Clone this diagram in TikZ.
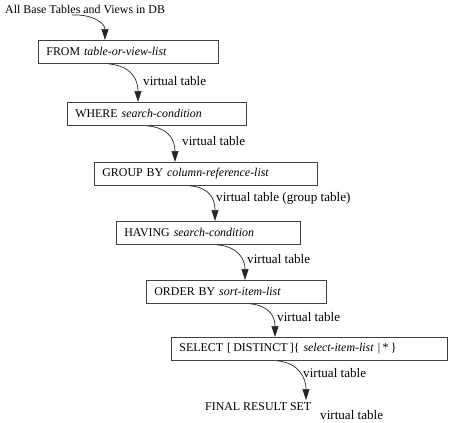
\documentclass[tikz,border=0pt]{standalone}
\usepackage{fontspec}
\setmainfont{Liberation Serif}
\usetikzlibrary{arrows.meta}
\begin{document}
\begin{tikzpicture}[x=1pt,y=-1pt,
  font=\fontsize{11.9}{14}\selectfont,
  box/.style={draw=black!75, line width=0.8pt, anchor=north west,
    minimum height=23pt, inner xsep=8pt, inner ysep=0pt, align=left, text width=#1},
  lbl/.style={anchor=west, inner sep=0pt},
  vt/.style={lbl, font=\fontsize{13.1}{15}\selectfont},
  arr/.style={draw=black!85, line width=0.7pt, -{Triangle[length=11pt,width=7pt]}}]
\useasboundingbox (0,0) rectangle (450,423);

\node[lbl] (title) at (5,9) {All Base Tables and Views in DB};
\coordinate (t0) at (72,15);

\node[box=164pt] (from) at (38,40) {FROM \textit{table-or-view-list}};
\node[box=163pt] (where) at (67,102) {WHERE \textit{search-condition}};
\node[box=207pt] (group) at (94,162) {GROUP BY \textit{column-reference-list}};
\node[box=168pt] (having) at (116,221) {HAVING \textit{search-condition}};
\node[box=164pt] (order) at (146,280) {ORDER BY \textit{sort-item-list}};
\node[box=260pt] (select) at (171,337)
  {SELECT [\hspace{0.2em}DISTINCT\hspace{0.2em}]\{ \textit{select-item-list} |\hspace{0.2em}*\hspace{0.2em}\}};
\node[lbl] (final) at (205,407) {FINAL RESULT SET};
\coordinate (fin) at (306,400);

\node[vt] (l1) at (143,81) {virtual table};
\node[vt] (l2) at (182,141) {virtual table};
\node[vt] (l3) at (216,198) {virtual table (group table)};
\node[vt] (l4) at (247,259) {virtual table};
\node[vt] (l5) at (277,317) {virtual table};
\node[vt] (l6) at (303,373) {virtual table};
\node[vt] (l7) at (320,415) {virtual table};

\draw[arr] (t0) .. controls +(22,-1) and +(0,-16) .. ([xshift=67pt]from.north west);
\draw[arr] ([xshift=70pt]from.south west) .. controls +(24,2) and +(0,-22) .. ([xshift=71pt]where.north west);
\draw[arr] ([xshift=80pt]where.south west) .. controls +(22,2) and +(0,-22) .. ([xshift=81pt]group.north west);
\draw[arr] ([xshift=96pt]group.south west) .. controls +(20,2) and +(0,-22) .. ([xshift=99pt]having.north west);
\draw[arr] ([xshift=101pt]having.south west) .. controls +(22,2) and +(0,-20) .. ([xshift=99pt]order.north west);
\draw[arr] ([xshift=104pt]order.south west) .. controls +(20,2) and +(0,-20) .. ([xshift=104pt]select.north west);
\draw[arr] ([xshift=106pt]select.south west) .. controls +(22,2) and +(0,-22) .. (fin);
\end{tikzpicture}
\end{document}
